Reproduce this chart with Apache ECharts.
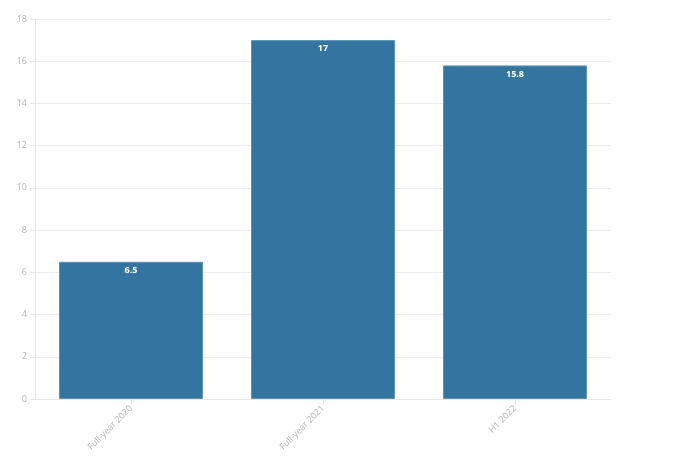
<!DOCTYPE html>
<html>
<head>
<meta charset="utf-8">
<script src="https://cdn.jsdelivr.net/npm/echarts@6/dist/echarts.min.js"></script>
<style>
  html, body { margin: 0; padding: 0; background: #fff; }
  #chart { width: 679px; height: 467px; }
</style>
</head>
<body>
<div id="chart"></div>
<script>
// data
var categories = ['Full-year 2020', 'Full-year 2021', 'H1 2022'];
var values = [6.5, 17, 15.8];
var yTicks = { min: 0, max: 18, interval: 2 };

var chart = echarts.init(document.getElementById('chart'));
chart.setOption({
    backgroundColor: '#fff',
    animation: false,
    grid: {
        left: 35,
        right: 68,
        top: 19,
        bottom: 68
    },
    xAxis: {
        type: 'category',
        data: categories,
        axisLine: { lineStyle: { color: '#e6e6e6' } },
        axisTick: { show: true, alignWithLabel: true, length: 5, lineStyle: { color: '#e6e6e6' } },
        axisLabel: {
            rotate: 45,
            color: '#b3b3b3',
            fontSize: 9,
            fontFamily: 'Open Sans',
            margin: 8
        }
    },
    yAxis: {
        type: 'value',
        min: yTicks.min,
        max: yTicks.max,
        interval: yTicks.interval,
        axisLine: { show: true, lineStyle: { color: '#e6e6e6' } },
        axisTick: { show: true, length: 5, lineStyle: { color: '#e6e6e6' } },
        splitLine: { lineStyle: { color: '#ececec' } },
        axisLabel: {
            color: '#b3b3b3',
            fontSize: 9,
            fontFamily: 'Open Sans',
            margin: 8
        }
    },
    series: [{
        type: 'bar',
        data: values,
        barCategoryGap: '25%',
        itemStyle: {
            color: '#33759e',
            borderColor: '#5b93b8',
            borderWidth: 1
        },
        label: {
            show: true,
            position: 'insideTop',
            distance: 4,
            color: '#fff',
            fontSize: 9,
            fontWeight: 'bold',
            fontFamily: 'Open Sans'
        }
    }]
});
</script>
</body>
</html>
